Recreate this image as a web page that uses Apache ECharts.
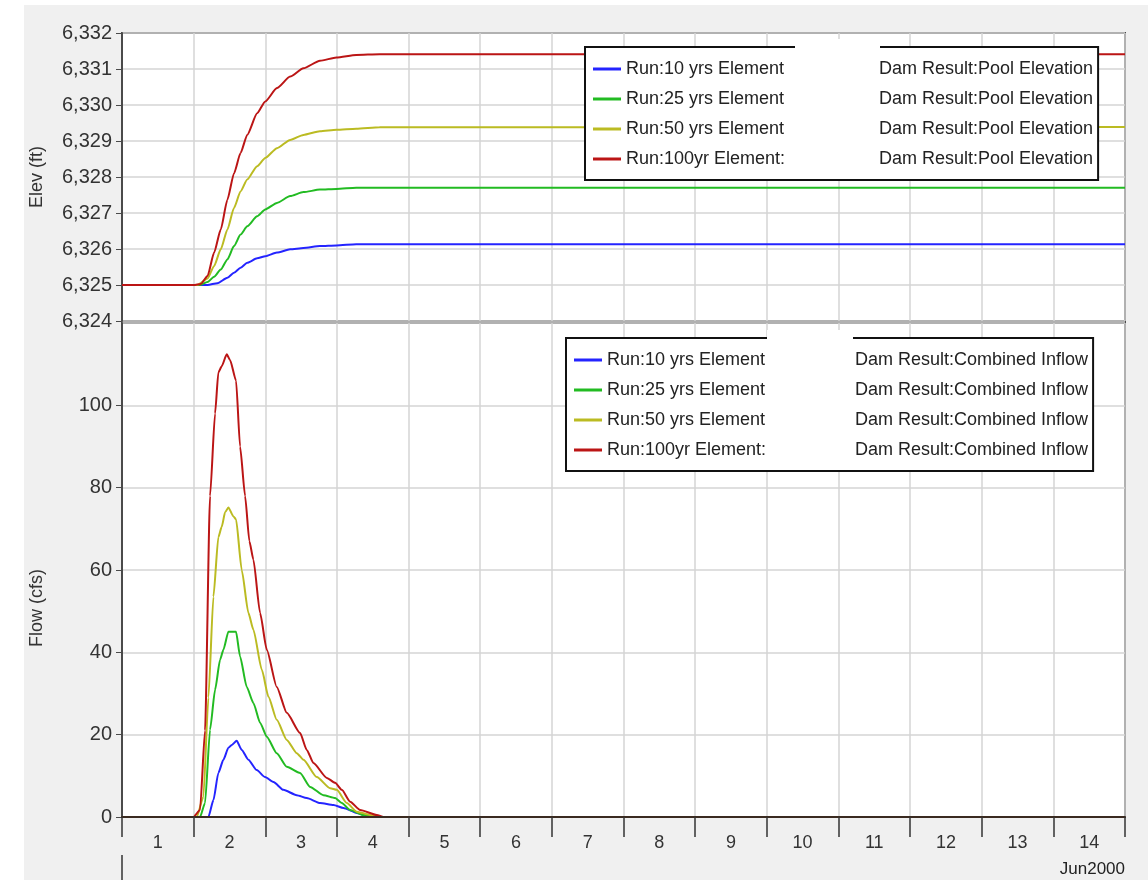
<!DOCTYPE html>
<html>
<head>
<meta charset="utf-8">
<title>Pool Elevation / Combined Inflow</title>
<script src="https://cdn.jsdelivr.net/npm/echarts@6/dist/echarts.min.js"></script>
<style>
    html, body { margin: 0; padding: 0; background: #fff; }
    #chart { position: absolute; left: 24px; top: 5px; width: 1124px; height: 875px; }
</style>
</head>
<body>
<div id="chart"></div>
<script>
// x = days after 1 Jun 2000 00:00
var dayLabels = ['1', '2', '3', '4', '5', '6', '7', '8', '9', '10', '11', '12', '13', '14'];
var runNames = ['Run:10 yrs Element', 'Run:25 yrs Element', 'Run:50 yrs Element', 'Run:100yr Element:'];
var runColors = ['#2424ff', '#22bb22', '#bbbb22', '#bb1515'];

var elev10 = [[0, 6325], [1.194, 6325], [1.332, 6325.05], [1.471, 6325.2], [1.563, 6325.34], [1.655, 6325.48],
    [1.748, 6325.62], [1.886, 6325.74], [2.0, 6325.8], [2.163, 6325.9], [2.347, 6325.99], [2.532, 6326.03],
    [2.763, 6326.08], [2.994, 6326.1], [3.27, 6326.13], [14, 6326.13]];
var elev25 = [[0, 6325], [1.08, 6325], [1.194, 6325.08], [1.286, 6325.23], [1.378, 6325.43], [1.471, 6325.71],
    [1.563, 6326.08], [1.655, 6326.4], [1.748, 6326.63], [1.886, 6326.91], [2.0, 6327.1], [2.163, 6327.28],
    [2.347, 6327.47], [2.532, 6327.58], [2.763, 6327.65], [2.994, 6327.67], [3.27, 6327.7], [14, 6327.7]];
var elev50 = [[0, 6325], [1.05, 6325], [1.194, 6325.18], [1.286, 6325.53], [1.378, 6325.99], [1.471, 6326.54],
    [1.563, 6327.14], [1.655, 6327.6], [1.748, 6327.93], [1.886, 6328.3], [2.0, 6328.53], [2.163, 6328.8],
    [2.347, 6329.03], [2.532, 6329.17], [2.763, 6329.27], [2.994, 6329.31], [3.27, 6329.34], [3.594, 6329.38],
    [14, 6329.39]];
var elev100 = [[0, 6325], [1.0, 6325], [1.10, 6325.03], [1.194, 6325.25], [1.286, 6325.9], [1.378, 6326.54],
    [1.471, 6327.37], [1.563, 6328.1], [1.655, 6328.67], [1.748, 6329.17], [1.886, 6329.77], [2.0, 6330.1],
    [2.163, 6330.47], [2.347, 6330.79], [2.532, 6331.02], [2.763, 6331.23], [2.994, 6331.32], [3.27, 6331.39],
    [3.594, 6331.41], [14, 6331.41]];

var flow10 = [[0, 0], [1.206, 0], [1.276, 4.1], [1.345, 10.7], [1.415, 13.9], [1.485, 16.8], [1.532, 17.5],
    [1.601, 18.5], [1.671, 16.3], [1.764, 13.9], [1.881, 11.4], [1.997, 9.7], [2.114, 8.5], [2.253, 6.6],
    [2.439, 5.3], [2.579, 4.6], [2.765, 3.4], [2.952, 2.9], [3.091, 2.2], [3.277, 1], [3.464, 0], [14, 0]];
var flow25 = [[0, 0], [1.089, 0], [1.159, 3.4], [1.229, 21.2], [1.299, 30.9], [1.369, 38.2], [1.415, 40.6],
    [1.485, 45], [1.592, 45], [1.648, 39], [1.741, 31.6], [1.834, 27.7], [1.927, 22.9], [2.021, 19.5],
    [2.160, 15.5], [2.300, 12.2], [2.486, 10.7], [2.626, 7.3], [2.812, 5.3], [2.975, 4.6], [3.068, 3.4],
    [3.184, 1.7], [3.371, 0.5], [3.510, 0], [14, 0]];
var flow50 = [[0, 0], [1.043, 0], [1.136, 4.9], [1.206, 29], [1.276, 53.5], [1.345, 68], [1.392, 70.5],
    [1.439, 74], [1.485, 75.2], [1.555, 73], [1.592, 72.3], [1.671, 60], [1.764, 49.6], [1.834, 45.5],
    [1.951, 35.8], [2.044, 29.2], [2.160, 23.6], [2.300, 18.7], [2.439, 15.5], [2.533, 13.9], [2.719, 9.7],
    [2.905, 7], [2.998, 6.6], [3.138, 3.4], [3.277, 1.3], [3.464, 0.5], [3.603, 0], [14, 0]];
var flow100 = [[0, 0], [0.996, 0], [1.089, 1.7], [1.159, 21], [1.229, 78], [1.299, 98], [1.345, 108],
    [1.392, 109.5], [1.462, 112.4], [1.508, 111], [1.592, 106], [1.648, 90], [1.718, 78], [1.778, 67],
    [1.834, 62.5], [1.927, 49.6], [2.021, 40.6], [2.160, 31.6], [2.300, 25.3], [2.486, 20.4], [2.579, 16.3],
    [2.672, 13.1], [2.859, 9.5], [2.975, 8.3], [3.068, 6.6], [3.184, 3.7], [3.324, 1.7], [3.557, 0.5],
    [3.650, 0], [14, 0]];

var elevData = [elev10, elev25, elev50, elev100];
var flowData = [flow10, flow25, flow50, flow100];

var font = "'Liberation Sans', Arial, sans-serif";
var gridColor = '#d4d4d4';
var frameColor = '#4a4a4a';

function withComma(v) {
    return String(v).replace(/\B(?=(\d{3})+(?!\d))/g, ',');
}

function legendText(name) {
    var p = name.split('|');
    return '{a|' + p[0] + '}{b|' + p[1] + '}';
}

var series = [];
var topNames = [];
var bottomNames = [];
for (var i = 0; i < 4; i++) {
    var n1 = runNames[i] + '|Dam Result:Pool Elevation';
    var n2 = runNames[i] + '|Dam Result:Combined Inflow';
    topNames.push(n1);
    bottomNames.push(n2);
    series.push({
        name: n1, type: 'line', xAxisIndex: 0, yAxisIndex: 0,
        data: elevData[i], symbol: 'none', smooth: 0.2, smoothMonotone: 'x',
        lineStyle: { width: 2, color: runColors[i] }, itemStyle: { color: runColors[i] }
    });
}
for (var j = 0; j < 4; j++) {
    series.push({
        name: bottomNames[j], type: 'line', xAxisIndex: 1, yAxisIndex: 1,
        data: flowData[j], symbol: 'none', smooth: 0.2, smoothMonotone: 'x',
        lineStyle: { width: 2, color: runColors[j] }, itemStyle: { color: runColors[j] }
    });
}

function makeLegend(names, left, top, aWidth, bWidth) {
    return {
        data: names, orient: 'vertical', left: left, top: top,
        icon: 'rect', itemWidth: 28, itemHeight: 3, itemGap: 12,
        padding: [13, 5, 12, 8],
        backgroundColor: '#fff', borderColor: '#111', borderWidth: 2,
        selectedMode: false,
        formatter: legendText,
        textStyle: {
            fontFamily: font, fontSize: 18, color: '#222',
            rich: {
                a: { width: aWidth, fontFamily: font, fontSize: 18, color: '#222' },
                b: { width: bWidth, fontFamily: font, fontSize: 18, color: '#222' }
            }
        }
    };
}

var chart = echarts.init(document.getElementById('chart'));
var option = {
    backgroundColor: '#f0f0f0',
    animation: false,
    textStyle: { fontFamily: font },
    grid: [
        { left: 98, top: 28, width: 1003, height: 288, outerBoundsMode: 'none', containLabel: false,
          show: true, backgroundColor: '#fff', borderColor: frameColor, borderWidth: 2 },
        { left: 98, top: 318, width: 1003, height: 494, outerBoundsMode: 'none', containLabel: false,
          show: true, backgroundColor: '#fff', borderColor: frameColor, borderWidth: 2 }
    ],
    legend: [
        makeLegend(topNames, 561, 42, 253, 231),
        makeLegend(bottomNames, 542, 333, 248, 258)
    ],
    xAxis: [
        {
            type: 'value', gridIndex: 0, min: 0, max: 14, interval: 1,
            axisLine: { show: false }, axisTick: { show: false }, axisLabel: { show: false },
            splitLine: { show: true, lineStyle: { color: gridColor, width: 1.5 } }
        },
        {
            type: 'value', gridIndex: 1, min: 0, max: 14, interval: 1, position: 'top',
            axisLine: { show: false }, axisTick: { show: false }, axisLabel: { show: false },
            splitLine: { show: true, lineStyle: { color: gridColor, width: 1.5 } }
        },
        {
            type: 'category', gridIndex: 1, data: dayLabels, boundaryGap: true, position: 'bottom', z: 5,
            name: 'Jun2000', nameLocation: 'end', nameGap: 0,
            nameTextStyle: { fontFamily: font, fontSize: 17, color: '#222', align: 'right', verticalAlign: 'top', padding: [44, 0, 0, 0] },
            axisLine: { show: true, lineStyle: { color: '#3a2a20', width: 2 } },
            axisTick: { show: true, length: 20, alignWithLabel: false, lineStyle: { color: '#333', width: 1.5 } },
            axisLabel: { fontFamily: font, fontSize: 18, color: '#333', margin: 17 },
            splitLine: { show: false }
        }
    ],
    yAxis: [
        {
            type: 'value', gridIndex: 0, min: 6324, max: 6332, interval: 1,
            name: 'Elev (ft)', nameLocation: 'middle', nameGap: 76,
            nameTextStyle: { fontFamily: font, fontSize: 18, color: '#333' },
            axisLine: { show: true, lineStyle: { color: frameColor, width: 2 } },
            axisTick: { show: true, length: 6, lineStyle: { color: frameColor } },
            axisLabel: { fontFamily: font, fontSize: 20, color: '#333', margin: 10, formatter: withComma },
            splitLine: { show: true, lineStyle: { color: gridColor, width: 1.5 } }
        },
        {
            type: 'value', gridIndex: 1, min: 0, max: 120, interval: 20,
            name: 'Flow (cfs)', nameLocation: 'middle', nameGap: 76,
            nameTextStyle: { fontFamily: font, fontSize: 18, color: '#333', padding: [0, 76, 0, 0] },
            axisLine: { show: true, lineStyle: { color: frameColor, width: 2 } },
            axisTick: { show: true, length: 6, lineStyle: { color: frameColor } },
            axisLabel: { fontFamily: font, fontSize: 20, color: '#333', margin: 10, showMaxLabel: false },
            splitLine: { show: true, lineStyle: { color: gridColor, width: 1.5 } }
        }
    ],
    graphic: [
        // white patches over the legends, as in the source image
        { type: 'rect', z: 100, shape: { x: 771, y: 34, width: 85, height: 138 }, style: { fill: '#fff' } },
        { type: 'rect', z: 100, shape: { x: 743, y: 325, width: 86, height: 140 }, style: { fill: '#fff' } },
        { type: 'line', z: 100, shape: { x1: 98, y1: 850, x2: 98, y2: 875 }, style: { stroke: '#333', lineWidth: 1.5 } }
    ],
    series: series
};
chart.setOption(option);
</script>
</body>
</html>
